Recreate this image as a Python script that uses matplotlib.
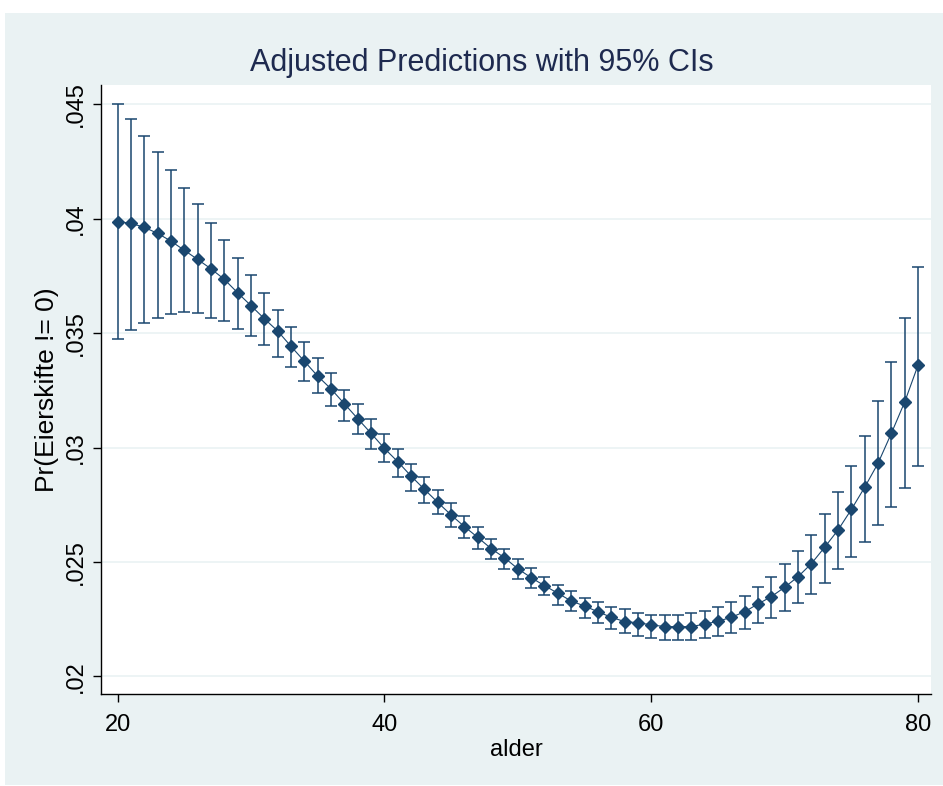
import matplotlib
matplotlib.use("Agg")
import matplotlib.pyplot as plt
from matplotlib.patches import Rectangle

plt.rcParams['font.family'] = ['Liberation Sans Narrow', 'Liberation Sans', 'DejaVu Sans']

# alder 20..80
alder = list(range(20, 81))

# predicted probability (margins)
pred = [0.03988, 0.03981, 0.03963, 0.03937, 0.03903, 0.03863, 0.03823, 0.03782, 0.03736, 0.03677,
        0.03621, 0.03564, 0.03510, 0.03443, 0.03378, 0.03313, 0.03257, 0.03192, 0.03127, 0.03063,
        0.02997, 0.02939, 0.02876, 0.02818, 0.02761, 0.02706, 0.02655, 0.02608, 0.02559, 0.02519,
        0.02471, 0.02432, 0.02397, 0.02364, 0.02330, 0.02308, 0.02283, 0.02259, 0.02240, 0.02235,
        0.02226, 0.02218, 0.02218, 0.02218, 0.02229, 0.02241, 0.02259, 0.02283, 0.02317, 0.02349,
        0.02390, 0.02436, 0.02493, 0.02565, 0.02640, 0.02730, 0.02827, 0.02932, 0.03063, 0.03200,
        0.03361]

# 95% CI upper
ci_hi = [0.04501, 0.04435, 0.04364, 0.04291, 0.04215, 0.04135, 0.04064, 0.03982, 0.03909, 0.03828,
         0.03756, 0.03675, 0.03600, 0.03527, 0.03462, 0.03391, 0.03325, 0.03252, 0.03190, 0.03124,
         0.03059, 0.02993, 0.02927, 0.02871, 0.02815, 0.02757, 0.02701, 0.02652, 0.02602, 0.02556,
         0.02515, 0.02474, 0.02434, 0.02399, 0.02375, 0.02344, 0.02327, 0.02305, 0.02295, 0.02279,
         0.02270, 0.02270, 0.02270, 0.02279, 0.02288, 0.02305, 0.02327, 0.02353, 0.02392, 0.02434,
         0.02490, 0.02549, 0.02618, 0.02710, 0.02806, 0.02920, 0.03051, 0.03204, 0.03373, 0.03568,
         0.03788]

# 95% CI lower
ci_lo = [0.03474, 0.03514, 0.03546, 0.03568, 0.03586, 0.03594, 0.03587, 0.03568, 0.03555, 0.03520,
         0.03488, 0.03448, 0.03398, 0.03351, 0.03293, 0.03238, 0.03182, 0.03117, 0.03060, 0.02994,
         0.02936, 0.02872, 0.02812, 0.02757, 0.02709, 0.02652, 0.02604, 0.02559, 0.02512, 0.02468,
         0.02425, 0.02385, 0.02356, 0.02314, 0.02286, 0.02257, 0.02232, 0.02206, 0.02189, 0.02178,
         0.02167, 0.02160, 0.02160, 0.02160, 0.02167, 0.02178, 0.02191, 0.02208, 0.02232, 0.02257,
         0.02288, 0.02320, 0.02361, 0.02410, 0.02468, 0.02524, 0.02588, 0.02661, 0.02742, 0.02824,
         0.02920]

yticks = [0.02, 0.025, 0.03, 0.035, 0.04, 0.045]
ytick_labels = ['.02', '.025', '.03', '.035', '.04', '.045']
xticks = [20, 40, 60, 80]

navy = '#1A476F'
bg = '#EAF2F3'

fig = plt.figure(figsize=(9.43, 7.86), dpi=100, facecolor='white')
# grå-blå bakgrunn (graph region)
fig.patches.append(Rectangle((5 / 943, 1 / 786), 1, 1 - 14 / 786, transform=fig.transFigure,
                             facecolor=bg, edgecolor='none', zorder=-10))

ax = fig.add_axes([101 / 943, 1 - 694 / 786, 830 / 943, 609 / 786])
ax.set_facecolor('white')

err_lo = [p - l for p, l in zip(pred, ci_lo)]
err_hi = [h - p for p, h in zip(pred, ci_hi)]
ax.errorbar(alder, pred, yerr=[err_lo, err_hi], fmt='none', ecolor=navy,
            elinewidth=1.1, capsize=4.5, capthick=1.1, zorder=3)
ax.plot(alder, pred, color=navy, lw=0.8, marker='D', markersize=6,
        markerfacecolor=navy, markeredgecolor=navy, zorder=4)

ax.set_xlim(18.76, 80.97)
ax.set_ylim(0.019235, 0.045852)
ax.set_xticks(xticks)
ax.set_yticks(yticks)
ax.set_yticklabels(ytick_labels, rotation=90, va='center')
ax.grid(axis='y', color=bg, lw=1.2)
ax.set_axisbelow(True)

for s in ['top', 'right']:
    ax.spines[s].set_visible(False)
for s in ['left', 'bottom']:
    ax.spines[s].set_color('black')
    ax.spines[s].set_linewidth(1.0)
ax.tick_params(direction='out', length=5.5, width=1, labelsize=17, colors='black')
ax.tick_params(axis='x', pad=9)
ax.tick_params(axis='y', pad=5)

ax.set_xlabel('alder', fontsize=17, labelpad=2)
ax.set_ylabel('Pr(Eierskifte != 0)', fontsize=19, labelpad=4)
fig.text(482 / 943, 1 - 63 / 786, 'Adjusted Predictions with 95% CIs', ha='center', va='center',
         fontsize=22, color='#1E2A4F')

fig.savefig('out.png', dpi=100, facecolor=fig.get_facecolor())
